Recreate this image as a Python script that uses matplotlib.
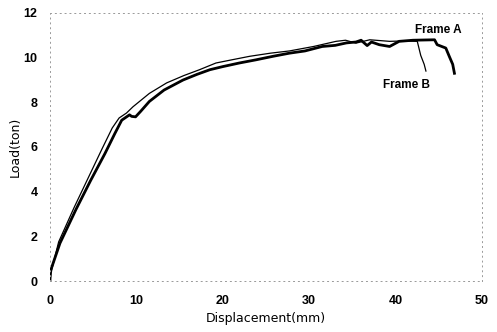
import matplotlib.pyplot as plt

# Frame A (thick line)
disp_a = [0, 0.02, 0.1, 1.15, 3.0, 4.7, 6.35, 7.5, 8.3, 9.2, 9.45, 9.9, 10.5,
          11.5, 13.2, 15.4, 17.0, 18.5, 20.0, 21.9, 23.8, 25.8, 27.7, 29.5,
          31.5, 33.0, 34.3, 35.4, 36.0, 36.7, 37.2, 38.1, 39.3, 40.4, 42.0,
          44.5, 44.8, 45.8, 46.2, 46.6, 46.8]
load_a = [0, 0.55, 0.5, 1.69, 3.2, 4.5, 5.7, 6.6, 7.2, 7.44, 7.37, 7.35, 7.6,
          8.04, 8.55, 9.0, 9.25, 9.46, 9.6, 9.76, 9.9, 10.06, 10.2, 10.3,
          10.5, 10.55, 10.66, 10.7, 10.78, 10.54, 10.7, 10.58, 10.5, 10.73, 10.78,
          10.8, 10.58, 10.43, 10.06, 9.7, 9.3]

# Frame B (thin line)
disp_b = [0, 0.2, 1.0, 2.8, 4.4, 6.0, 7.2, 8.0, 8.85, 9.6, 11.5, 13.5, 15.5,
          17.3, 19.2, 21.0, 23.1, 25.5, 27.7, 30.5, 33.1, 34.2, 35.4, 37.0,
          39.3, 41.0, 42.5, 42.9, 43.3, 43.5]
load_b = [0, 0.5, 1.75, 3.3, 4.6, 5.9, 6.85, 7.3, 7.52, 7.8, 8.4, 8.87, 9.2,
          9.46, 9.76, 9.9, 10.06, 10.2, 10.3, 10.5, 10.73, 10.78, 10.65, 10.8,
          10.73, 10.75, 10.73, 10.1, 9.7, 9.4]

xticks = [0, 10, 20, 30, 40, 50]
yticks = [0, 2, 4, 6, 8, 10, 12]

fig = plt.figure(figsize=(4.97, 3.32), dpi=100)
ax = fig.add_axes([0.1006, 0.1536, 0.8694, 0.8073])

ax.plot(disp_b, load_b, color='black', lw=0.9)
ax.plot(disp_a, load_a, color='black', lw=2.0)

ax.text(44.95, 11.26, 'Frame A', fontsize=8.5, fontweight='bold', ha='center', va='center',
        family='Liberation Sans')
ax.text(41.3, 8.79, 'Frame B', fontsize=8.5, fontweight='bold', ha='center', va='center',
        family='Liberation Sans')

ax.set_xlim(0, 50)
ax.set_ylim(0, 12)
ax.set_xticks(xticks)
ax.set_yticks(yticks)
ax.set_xticklabels([str(t) for t in xticks], fontweight='bold', family='Liberation Sans', fontsize=9)
ax.set_yticklabels([str(t) for t in yticks], fontweight='bold', family='Liberation Sans', fontsize=9)
ax.tick_params(axis='x', length=0, pad=10)
ax.tick_params(axis='y', length=0, pad=9)

ax.set_xlabel('Displacement(mm)', fontsize=9, labelpad=4)
ax.set_ylabel('Load(ton)', fontsize=9, labelpad=1)

for side in ['left', 'right', 'top', 'bottom']:
    ax.spines[side].set_linestyle((0, (1, 4)))
    ax.spines[side].set_color('#999999')
    ax.spines[side].set_linewidth(0.7)

fig.savefig('out.png', dpi=100)
